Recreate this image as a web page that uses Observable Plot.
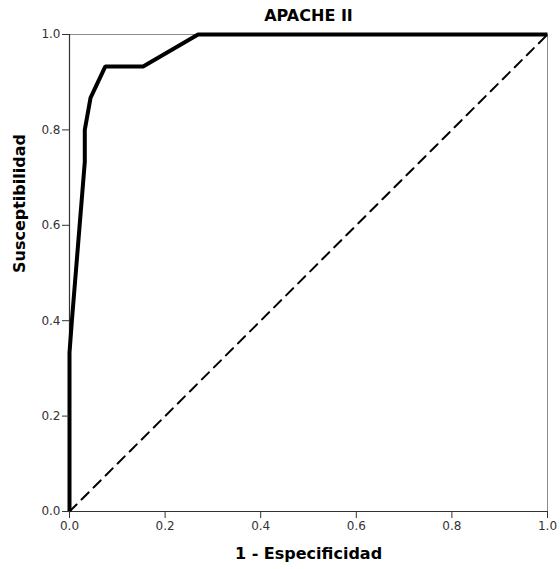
<!DOCTYPE html>
<html>
<head>
<meta charset="utf-8">
<script src="https://cdn.jsdelivr.net/npm/d3@7"></script>
<script src="https://cdn.jsdelivr.net/npm/@observablehq/plot@0.6"></script>
<style>
  html, body { margin: 0; padding: 0; background: #fff; }
</style>
</head>
<body>
<div id="chart"></div>
<script>
// ROC curve for APACHE II
const fpr = [0, 0, 0.005, 0.032, 0.032, 0.044, 0.075, 0.154, 0.269, 1];
const tpr = [0, 0.333, 0.4, 0.733, 0.8, 0.867, 0.933, 0.933, 1, 1];
const refX = [0, 1];
const refY = [0, 1];
const tickValues = [0, 0.2, 0.4, 0.6, 0.8, 1.0];
const title = "APACHE II";
const xLabel = "1 - Especificidad";
const yLabel = "Susceptibilidad";

const curve = fpr.map((x, i) => ({x, y: tpr[i]}));
const diag = refX.map((x, i) => ({x, y: refY[i]}));

const font = "DejaVu Sans, Verdana, sans-serif";

const chart = Plot.plot({
  width: 560,
  height: 569,
  marginLeft: 69,
  marginRight: 13,
  marginTop: 34,
  marginBottom: 58,
  style: {fontFamily: font, background: "#fff"},
  x: {domain: [0, 1]},
  y: {domain: [0, 1]},
  marks: [
    Plot.frame({stroke: "#8c8c8c", strokeWidth: 1}),
    Plot.line(diag, {x: "x", y: "y", stroke: "#000", strokeWidth: 2, strokeDasharray: "10,7"}),
    Plot.ruleX([0], {stroke: "#333", strokeWidth: 1.2}),
    Plot.ruleY([0], {stroke: "#333", strokeWidth: 1.2}),
    Plot.line(curve, {x: "x", y: "y", stroke: "#000", strokeWidth: 4, strokeLinejoin: "miter", strokeLinecap: "butt"}),
    Plot.axisX({ticks: tickValues, tickFormat: d3.format(".1f"), tickSize: 7, tickPadding: 3, fontSize: 12, color: "#333", label: null}),
    Plot.axisY({ticks: tickValues, tickFormat: d3.format(".1f"), tickSize: 7, tickPadding: 2, fontSize: 12, color: "#333", label: null}),
    Plot.text([title], {frameAnchor: "top", dy: -25, text: d => d, fontSize: 16, fontWeight: "bold", fill: "#000"}),
    Plot.text([xLabel], {frameAnchor: "bottom", dy: 47, text: d => d, fontSize: 16, fontWeight: "bold", fill: "#000"}),
    Plot.text([yLabel], {frameAnchor: "left", dx: -50, rotate: -90, text: d => d, fontSize: 16, fontWeight: "bold", fill: "#000"})
  ]
});
document.getElementById("chart").appendChild(chart);
</script>
</body>
</html>
